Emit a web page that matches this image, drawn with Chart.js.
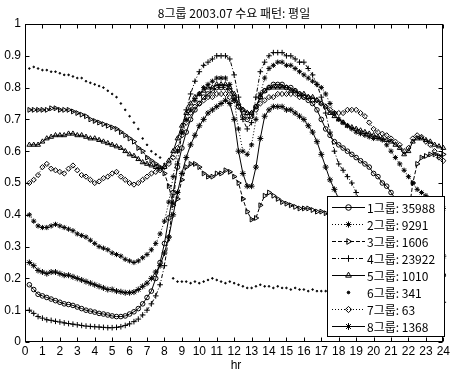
<!DOCTYPE html>
<html><head><meta charset="utf-8">
<script src="https://cdn.jsdelivr.net/npm/chart.js@4.4.1/dist/chart.umd.min.js"></script>
<style>html,body{margin:0;padding:0;background:#fff}canvas{display:block}</style>
</head><body>
<canvas id="c" width="452" height="374"></canvas>
<script>
const chartTitle = '8그룹 2003.07 수요 패턴: 평일';
const xTitle = 'hr';
const xTicks = [0,1,2,3,4,5,6,7,8,9,10,11,12,13,14,15,16,17,18,19,20,21,22,23,24];
const yTicks = [0,0.1,0.2,0.3,0.4,0.5,0.6,0.7,0.8,0.9,1];
const hours = Array.from({length:96},(_,i)=>(i+1)/4);
const groupNames = ['1그룹: 35988','2그룹: 9291','3그룹: 1606','4그룹: 23922','5그룹: 1010','6그룹: 341','7그룹: 63','8그룹: 1368'];

const g1 = [0.18,0.165,0.15,0.145,0.14,0.135,0.13,0.125,
0.12,0.118,0.115,0.11,0.105,0.10,0.097,0.094,
0.09,0.088,0.085,0.082,0.08,0.08,0.082,0.088,
0.095,0.105,0.12,0.14,0.16,0.20,0.25,0.31,
0.39,0.47,0.55,0.61,0.66,0.70,0.73,0.75,
0.77,0.78,0.79,0.80,0.80,0.80,0.79,0.77,
0.74,0.71,0.70,0.71,0.74,0.77,0.79,0.80,
0.81,0.81,0.81,0.80,0.80,0.79,0.78,0.77,
0.76,0.75,0.73,0.70,0.67,0.65,0.63,0.62,
0.61,0.60,0.59,0.58,0.57,0.56,0.55,0.53,
0.52,0.50,0.49,0.47,0.45,0.43,0.41,0.38,
0.36,0.34,0.32,0.30,0.27,0.25,0.23,0.21];
const g2 = [0.40,0.38,0.365,0.36,0.36,0.365,0.37,0.365,
0.36,0.355,0.35,0.34,0.335,0.33,0.32,0.31,
0.30,0.295,0.29,0.28,0.275,0.27,0.26,0.255,
0.25,0.255,0.265,0.275,0.29,0.31,0.34,0.38,
0.44,0.52,0.60,0.66,0.70,0.73,0.76,0.78,
0.80,0.81,0.82,0.83,0.83,0.83,0.81,0.76,
0.67,0.60,0.59,0.62,0.70,0.78,0.83,0.86,
0.87,0.88,0.88,0.87,0.87,0.86,0.85,0.84,
0.83,0.82,0.81,0.80,0.78,0.75,0.72,0.70,
0.69,0.68,0.67,0.66,0.655,0.65,0.645,0.64,
0.64,0.635,0.62,0.60,0.58,0.56,0.54,0.52,
0.50,0.48,0.47,0.46,0.45,0.44,0.43,0.42];
const g3 = [0.73,0.73,0.73,0.73,0.73,0.735,0.735,0.73,
0.73,0.73,0.725,0.72,0.715,0.71,0.70,0.695,
0.69,0.685,0.68,0.675,0.67,0.66,0.65,0.64,
0.63,0.61,0.60,0.58,0.57,0.56,0.55,0.53,
0.49,0.43,0.45,0.51,0.55,0.56,0.56,0.55,
0.53,0.52,0.52,0.53,0.53,0.54,0.535,0.52,
0.50,0.45,0.41,0.385,0.39,0.43,0.46,0.47,
0.46,0.45,0.44,0.435,0.43,0.425,0.42,0.42,
0.42,0.415,0.41,0.41,0.405,0.40,0.40,0.395,
0.39,0.39,0.385,0.38,0.38,0.375,0.37,0.37,
0.365,0.36,0.36,0.355,0.35,0.35,0.36,0.40,
0.50,0.56,0.58,0.585,0.59,0.59,0.585,0.59];
const g4 = [0.10,0.09,0.08,0.075,0.07,0.068,0.065,0.063,
0.06,0.058,0.056,0.054,0.052,0.05,0.049,0.048,
0.047,0.046,0.045,0.045,0.046,0.048,0.052,0.057,
0.064,0.072,0.085,0.10,0.12,0.145,0.18,0.24,
0.33,0.44,0.56,0.66,0.73,0.78,0.82,0.85,
0.87,0.88,0.89,0.90,0.90,0.90,0.89,0.84,
0.77,0.70,0.67,0.69,0.77,0.85,0.88,0.90,
0.91,0.91,0.91,0.90,0.90,0.89,0.88,0.88,
0.86,0.84,0.81,0.77,0.72,0.66,0.60,0.56,
0.54,0.52,0.50,0.47,0.44,0.40,0.36,0.32,
0.29,0.26,0.24,0.22,0.20,0.19,0.18,0.17,
0.16,0.155,0.15,0.145,0.14,0.135,0.13,0.125];
const g5 = [0.62,0.62,0.62,0.63,0.64,0.645,0.65,0.65,
0.65,0.655,0.655,0.65,0.65,0.645,0.64,0.64,
0.635,0.63,0.625,0.62,0.615,0.61,0.60,0.59,
0.585,0.575,0.565,0.56,0.555,0.55,0.545,0.55,
0.57,0.60,0.64,0.68,0.72,0.75,0.77,0.78,
0.79,0.80,0.80,0.81,0.81,0.81,0.80,0.78,
0.75,0.73,0.72,0.72,0.74,0.77,0.79,0.80,
0.80,0.80,0.80,0.80,0.79,0.79,0.78,0.78,
0.77,0.77,0.76,0.75,0.74,0.72,0.71,0.70,
0.69,0.68,0.675,0.67,0.665,0.66,0.655,0.65,
0.645,0.64,0.635,0.63,0.62,0.61,0.59,0.60,
0.63,0.64,0.64,0.635,0.63,0.62,0.615,0.61];
const g6 = [0.86,0.865,0.86,0.855,0.855,0.85,0.85,0.845,
0.84,0.84,0.835,0.83,0.83,0.82,0.815,0.81,
0.805,0.80,0.79,0.78,0.77,0.75,0.73,0.71,
0.69,0.67,0.64,0.62,0.60,0.59,0.58,0.56,
0.32,0.20,0.19,0.19,0.19,0.185,0.19,0.185,
0.19,0.195,0.20,0.195,0.19,0.185,0.19,0.185,
0.18,0.175,0.17,0.17,0.175,0.18,0.175,0.175,
0.17,0.175,0.17,0.17,0.165,0.17,0.165,0.165,
0.16,0.165,0.16,0.16,0.16,0.155,0.16,0.155,
0.155,0.15,0.155,0.15,0.15,0.145,0.15,0.145,
0.145,0.14,0.145,0.14,0.14,0.135,0.14,0.135,
0.135,0.13,0.13,0.135,0.13,0.13,0.125,0.13];
const g7 = [0.50,0.51,0.525,0.55,0.56,0.545,0.54,0.535,
0.53,0.545,0.555,0.54,0.525,0.52,0.51,0.50,
0.505,0.515,0.52,0.53,0.535,0.52,0.51,0.50,
0.495,0.50,0.51,0.52,0.53,0.535,0.54,0.55,
0.56,0.58,0.61,0.65,0.69,0.72,0.74,0.75,
0.76,0.77,0.77,0.78,0.78,0.78,0.77,0.76,
0.74,0.73,0.72,0.72,0.73,0.75,0.76,0.77,
0.77,0.78,0.78,0.78,0.78,0.78,0.77,0.77,
0.77,0.76,0.76,0.75,0.74,0.73,0.72,0.72,
0.72,0.73,0.73,0.73,0.72,0.71,0.69,0.67,
0.66,0.655,0.65,0.64,0.63,0.62,0.60,0.61,
0.64,0.65,0.645,0.63,0.62,0.60,0.58,0.57];
const g8 = [0.25,0.24,0.225,0.22,0.215,0.22,0.22,0.215,
0.21,0.21,0.205,0.20,0.195,0.19,0.185,0.18,
0.175,0.17,0.165,0.165,0.16,0.158,0.155,0.155,
0.157,0.165,0.175,0.185,0.20,0.22,0.24,0.28,
0.33,0.40,0.47,0.53,0.58,0.62,0.65,0.68,
0.70,0.72,0.73,0.74,0.75,0.76,0.75,0.70,
0.60,0.53,0.49,0.49,0.55,0.64,0.71,0.73,
0.74,0.74,0.74,0.73,0.73,0.72,0.71,0.70,
0.68,0.66,0.63,0.59,0.55,0.51,0.48,0.45,
0.42,0.40,0.38,0.36,0.35,0.34,0.33,0.32,
0.315,0.31,0.305,0.30,0.295,0.29,0.29,0.285,
0.285,0.28,0.28,0.28,0.275,0.275,0.27,0.27];

const seriesValues = [g1,g2,g3,g4,g5,g6,g7,g8];
const styles = [
  {dash:[], point:'circle', rot:0, r:2.3, fill:'rgba(0,0,0,0)', line:true},
  {dash:[1,2], point:'star', rot:0, r:2.6, fill:'rgba(0,0,0,0)', line:true},
  {dash:[4,2], point:'triangle', rot:90, r:2.8, fill:'rgba(0,0,0,0)', line:true},
  {dash:[4,2,1,2], point:'cross', rot:0, r:2.8, fill:'rgba(0,0,0,0)', line:true},
  {dash:[], point:'triangle', rot:0, r:2.8, fill:'rgba(0,0,0,0)', line:true},
  {dash:[], point:'circle', rot:0, r:0.8, fill:'#000', line:false},
  {dash:[1,2], point:'rectRot', rot:0, r:2.6, fill:'rgba(0,0,0,0)', line:true},
  {dash:[], point:'star', rot:0, r:3, fill:'#000', line:true}
];

const datasets = seriesValues.map((vals,i)=>({
  label: groupNames[i],
  data: vals.map((v,k)=>({x:hours[k], y:v})),
  borderColor:'#000', borderWidth:1, borderDash: styles[i].dash,
  showLine: styles[i].line,
  pointStyle: styles[i].point, pointRotation: styles[i].rot,
  pointRadius: styles[i].r, pointBorderWidth: 1,
  pointBorderColor:'#000', pointBackgroundColor: styles[i].fill,
  tension:0, clip:6
}));

const numFont = {family:'"Liberation Sans Narrow","Liberation Sans",Arial,sans-serif', size:12};
const krFont = '"Noto Sans CJK KR","Liberation Sans Narrow",sans-serif';

const frame = {
  id:'frame',
  afterDraw(chart){
    const {ctx, chartArea:a, scales:{x,y}} = chart;
    ctx.save();
    ctx.strokeStyle='#000'; ctx.lineWidth=1; ctx.setLineDash([]);
    const L=Math.round(a.left)+0.5, R=Math.round(a.right)-0.5, T=Math.round(a.top)+0.5, B=Math.round(a.bottom)-0.5;
    ctx.strokeRect(L,T,R-L,B-T);
    ctx.beginPath();
    xTicks.forEach(v=>{const p=Math.round(x.getPixelForValue(v))+0.5; ctx.moveTo(p,B); ctx.lineTo(p,B-4); ctx.moveTo(p,T); ctx.lineTo(p,T+4);});
    yTicks.forEach(v=>{const p=Math.round(y.getPixelForValue(v))+0.5; ctx.moveTo(L,p); ctx.lineTo(L+4,p); ctx.moveTo(R,p); ctx.lineTo(R-4,p);});
    ctx.stroke();
    // title and axis title
    ctx.fillStyle='#000'; ctx.textAlign='center'; ctx.textBaseline='middle';
    ctx.font='12px '+krFont;
    ctx.fillText(chartTitle, 234, 13);
    ctx.font='12px '+numFont.family;
    ctx.fillText(xTitle, 236, 366);
    // legend
    const lx=327, ly=196, lw=118, lh=141;
    ctx.fillStyle='#fff'; ctx.fillRect(lx,ly,lw,lh);
    ctx.strokeStyle='#000'; ctx.strokeRect(lx+0.5,ly+0.5,lw-1,lh-1);
    groupNames.forEach((name,i)=>{
      const cy = 207 + i*17;
      const st = styles[i];
      ctx.strokeStyle='#000'; ctx.lineWidth=1;
      if (st.line){ ctx.setLineDash(st.dash); ctx.beginPath(); ctx.moveTo(332,cy+0.5); ctx.lineTo(365,cy+0.5); ctx.stroke(); }
      ctx.setLineDash([]);
      ctx.fillStyle = st.fill;
      Chart.helpers.drawPoint(ctx,{pointStyle:st.point, rotation:st.rot, radius:st.r+0.5, borderWidth:1}, 348.5, cy+0.5);
      ctx.fillStyle='#000'; ctx.textAlign='left'; ctx.textBaseline='middle';
      ctx.font='12px '+krFont;
      ctx.fillText(name, 367, cy+1);
    });
    ctx.restore();
  }
};

new Chart(document.getElementById('c'), {
  type:'line',
  data:{datasets},
  options:{
    responsive:false, animation:false, devicePixelRatio:1,
    layout:{padding:{top:24,right:5,left:0,bottom:0}},
    plugins:{legend:{display:false}, title:{display:false}, tooltip:{enabled:false}},
    scales:{
      x:{type:'linear', min:0, max:24, afterFit:s=>{s.height=32;},
         afterBuildTicks:s=>{s.ticks=xTicks.map(v=>({value:v}));},
         ticks:{color:'#000', font:numFont, padding:2, maxRotation:0, autoSkip:false, callback:v=>String(v)},
         grid:{display:false, drawTicks:false}, border:{display:false}},
      y:{type:'linear', min:0, max:1, afterFit:s=>{s.width=25;},
         afterBuildTicks:s=>{s.ticks=yTicks.map(v=>({value:v}));},
         ticks:{color:'#000', font:numFont, padding:4, callback:v=>String(Math.round(v*10)/10)},
         grid:{display:false, drawTicks:false}, border:{display:false}}
    }
  },
  plugins:[frame]
});
</script>
</body></html>
